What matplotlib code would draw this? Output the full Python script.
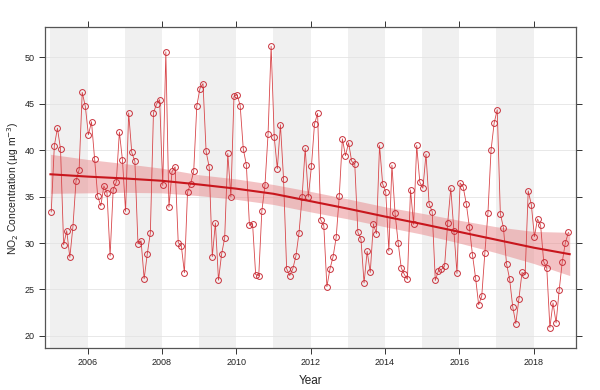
import numpy as np
import matplotlib
matplotlib.use("Agg")
import matplotlib.pyplot as plt

# Monthly NO2 concentrations (µg m-3), Jan..Dec
no2_2005 = [33.35, 40.47, 42.37, 40.1, 29.8, 31.33, 28.45, 31.76, 36.7, 37.88, 46.22, 44.71]
no2_2006 = [41.65, 43.06, 39.03, 35.04, 34.0, 36.15, 35.43, 28.6, 35.75, 36.55, 41.94, 38.92]
no2_2007 = [33.4, 44.0, 39.75, 38.81, 29.9, 30.25, 26.15, 28.8, 31.1, 44.0, 44.96, 45.43]
no2_2008 = [36.2, 50.58, 33.85, 37.7, 38.2, 30.04, 29.7, 26.8, 35.47, 36.37, 37.73, 44.75]
no2_2009 = [46.62, 47.16, 39.86, 38.17, 28.53, 32.16, 26.0, 28.8, 30.54, 39.64, 34.96, 45.8]
no2_2010 = [45.97, 44.8, 40.14, 38.4, 31.9, 32.1, 26.6, 26.5, 33.45, 36.2, 41.7, 51.19]
no2_2011 = [41.37, 38.0, 42.73, 36.94, 27.23, 26.5, 27.23, 28.6, 31.1, 35.0, 40.2, 34.96]
no2_2012 = [38.24, 42.81, 43.96, 32.5, 31.87, 25.3, 27.23, 28.53, 30.61, 35.07, 41.22, 39.4]
no2_2013 = [40.8, 38.8, 38.5, 31.15, 30.43, 25.7, 29.1, 26.83, 32.05, 31.0, 40.5, 36.37]
no2_2014 = [35.5, 29.14, 38.38, 33.24, 30.04, 27.34, 26.62, 26.08, 35.72, 32.01, 40.5, 36.55]
no2_2015 = [35.9, 39.57, 34.21, 33.38, 25.97, 27.01, 27.16, 27.52, 32.16, 35.9, 31.33, 26.73]
no2_2016 = [36.47, 36.04, 34.24, 31.73, 28.74, 26.26, 23.35, 24.28, 28.92, 33.24, 40.0, 42.91]
no2_2017 = [44.35, 33.17, 31.65, 27.77, 26.12, 23.13, 21.33, 24.0, 26.83, 26.58, 35.61, 34.14]
no2_2018 = [30.68, 32.59, 31.91, 27.99, 27.27, 20.9, 23.56, 21.4, 24.93, 27.99, 30.04, 31.15]

years = list(range(2005, 2019))
yearly = [no2_2005, no2_2006, no2_2007, no2_2008, no2_2009, no2_2010, no2_2011,
          no2_2012, no2_2013, no2_2014, no2_2015, no2_2016, no2_2017, no2_2018]

# Smooth trend and its confidence band read at yearly positions
trend_x = [2005, 2006, 2007, 2008, 2009, 2010, 2011, 2012, 2013, 2014, 2015, 2016, 2017, 2018, 2018.97]
trend_y = [37.4, 37.15, 36.95, 36.7, 36.3, 35.85, 35.3, 34.5, 33.7, 32.85, 32.05, 31.2, 30.35, 29.5, 28.8]
trend_hi = [39.55, 39.0, 38.55, 38.05, 37.35, 36.9, 36.3, 35.55, 34.75, 33.9, 33.2, 32.45, 31.75, 31.25, 31.15]
trend_lo = [35.35, 35.4, 35.45, 35.4, 35.1, 34.7, 34.15, 33.35, 32.6, 31.75, 30.95, 30.0, 28.95, 27.8, 26.5]

y_ticks = [20, 25, 30, 35, 40, 45, 50]
x_ticks = [2006, 2008, 2010, 2012, 2014, 2016, 2018]

plt.rcParams['font.family'] = ['Liberation Sans', 'DejaVu Sans']

t = np.array([y + (m + 0.25) / 12.0 for y in years for m in range(12)])
vals = np.concatenate([np.array(v) for v in yearly])

fig = plt.figure(figsize=(6.0, 3.9), dpi=100)
ax = fig.add_axes([0.0742, 0.1077, 0.8858, 0.8218])

ax.set_xlim(2004.84, 2019.14)
ax.set_ylim(18.7, 53.2)

# alternating year shading
for y in years[::2]:
    ax.axvspan(y, y + 1, color='#F0F0F0', lw=0, zorder=0)

for yt in y_ticks:
    ax.axhline(yt, color='#E4E4E4', lw=0.6, zorder=0.5)

ax.fill_between(trend_x, trend_lo, trend_hi, color='#E8878A', alpha=0.5, lw=0, zorder=1)
ax.plot(t, vals, color='#D8464A', lw=0.6, zorder=2)
ax.plot(t, vals, ls='none', marker='o', ms=4.2, mfc='none', mec='#C8303A', mew=0.7, zorder=3)
ax.plot(trend_x, trend_y, color='#C8161D', lw=1.5, zorder=4)

ax.set_xticks(x_ticks)
ax.set_xticklabels([str(x) for x in x_ticks])
ax.set_yticks(y_ticks)
ax.set_yticklabels([str(v) for v in y_ticks])
ax.tick_params(axis='both', which='both', direction='out', length=4, width=0.7,
               colors='#333333', labelsize=6.5, top=True, right=True,
               labeltop=False, labelright=False, pad=3)
ax.tick_params(axis='both', labelcolor='#222222')

for s in ax.spines.values():
    s.set_color('#555555')
    s.set_linewidth(0.9)

ax.set_xlabel('Year', fontsize=8.5, color='#222222', labelpad=6)
ax.set_ylabel('NO$_2$ Concentration (µg m$^{-3}$)', fontsize=7.5, color='#222222', labelpad=3)

fig.savefig('out.png', dpi=100)
